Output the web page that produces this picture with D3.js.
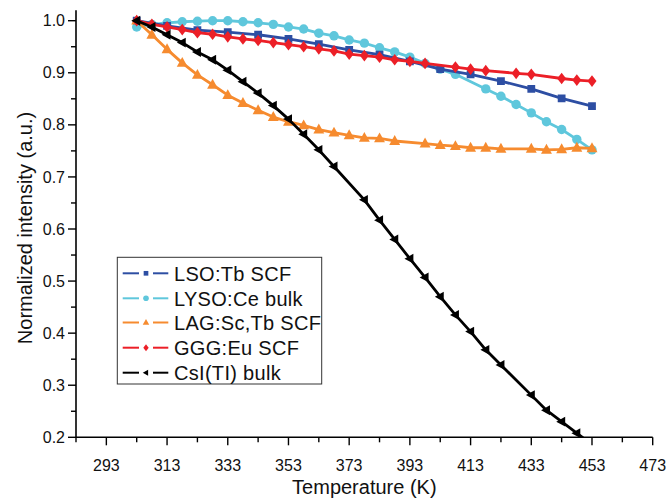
<!DOCTYPE html>
<html>
<head>
<meta charset="utf-8">
<script src="https://cdn.jsdelivr.net/npm/d3@7"></script>
<style>
  html, body { margin: 0; padding: 0; background: #fff; }
  svg { display: block; font-family: Arial, "Liberation Sans", sans-serif; }
</style>
</head>
<body>
<svg id="chart" width="666" height="500"></svg>
<script>
// Temperature-dependent normalized luminescence intensity
const xTicks = [293, 313, 333, 353, 373, 393, 413, 433, 453, 473];
const yTicks = [0.2, 0.3, 0.4, 0.5, 0.6, 0.7, 0.8, 0.9, 1.0];

const lsoT = [303, 313, 323, 333, 343, 353, 363, 373, 383, 393, 403, 413, 423, 433, 443, 453];
const lsoV = [1.0, 0.99, 0.982, 0.978, 0.973, 0.965, 0.955, 0.944, 0.935, 0.922, 0.907, 0.897, 0.884, 0.869, 0.851, 0.836];

const lysoT = [303, 308, 313, 318, 323, 328, 333, 338, 343, 348, 353, 358, 363, 368, 373, 378, 383, 388, 393, 398, 403, 408, 418, 423, 428, 433, 438, 443, 448, 453];
const lysoV = [0.988, 0.993, 0.996, 0.998, 0.999, 1.0, 1.0, 0.998, 0.996, 0.993, 0.988, 0.984, 0.976, 0.971, 0.963, 0.957, 0.948, 0.940, 0.930, 0.918, 0.907, 0.897, 0.869, 0.855, 0.839, 0.823, 0.806, 0.791, 0.772, 0.752];

const lagT = [303, 308, 313, 318, 323, 328, 333, 338, 343, 348, 353, 358, 363, 368, 373, 378, 383, 388, 398, 403, 408, 413, 418, 423, 433, 438, 443, 448, 453];
const lagV = [1.0, 0.973, 0.945, 0.919, 0.896, 0.877, 0.857, 0.842, 0.828, 0.815, 0.806, 0.799, 0.791, 0.785, 0.780, 0.775, 0.774, 0.769, 0.764, 0.761, 0.759, 0.756, 0.756, 0.754, 0.754, 0.752, 0.753, 0.756, 0.755];

const gggT = [303, 308, 313, 318, 323, 328, 333, 338, 343, 348, 353, 358, 363, 368, 373, 378, 383, 388, 393, 398, 408, 413, 418, 428, 433, 443, 448, 453];
const gggV = [1.0, 0.993, 0.988, 0.983, 0.977, 0.974, 0.969, 0.965, 0.962, 0.958, 0.954, 0.950, 0.946, 0.942, 0.936, 0.933, 0.930, 0.925, 0.922, 0.918, 0.911, 0.907, 0.904, 0.899, 0.897, 0.889, 0.886, 0.884];

const csiT = [303, 308, 313, 318, 323, 328, 333, 338, 343, 348, 353, 358, 363, 368, 378, 383, 388, 393, 398, 403, 408, 413, 418, 423, 433, 438, 443, 448, 453];
const csiV = [1.0, 0.988, 0.973, 0.958, 0.940, 0.925, 0.905, 0.883, 0.861, 0.837, 0.811, 0.782, 0.752, 0.720, 0.656, 0.617, 0.580, 0.543, 0.507, 0.470, 0.435, 0.403, 0.368, 0.339, 0.281, 0.252, 0.230, 0.208, 0.186];

const seriesNames = ["LSO:Tb SCF", "LYSO:Ce bulk", "LAG:Sc,Tb SCF", "GGG:Eu SCF", "CsI(TI) bulk"];

const series = [
  { name: seriesNames[0], t: lsoT, v: lsoV, color: "#2d4ea3", shape: "square" },
  { name: seriesNames[1], t: lysoT, v: lysoV, color: "#5fc7dc", shape: "circle" },
  { name: seriesNames[2], t: lagT, v: lagV, color: "#f68b2f", shape: "triangleUp" },
  { name: seriesNames[3], t: gggT, v: gggV, color: "#ec1f27", shape: "diamond" },
  { name: seriesNames[4], t: csiT, v: csiV, color: "#000000", shape: "triangleLeft" }
];
// drawing order: cyan underneath, black on top
const drawOrder = [1, 0, 2, 3, 4];

const svg = d3.select("#chart");
const plotLeft = 76, plotRight = 652.7, plotTop = 20.7, plotBottom = 437.3;

const x = d3.scaleLinear().domain([283, 473]).range([plotLeft, plotRight]);
const y = d3.scaleLinear().domain([0.2, 1.0]).range([plotBottom, plotTop]);
const yAxisTop = y(1.02);

svg.append("rect").attr("width", 666).attr("height", 500).attr("fill", "#fff");

svg.append("defs").append("clipPath").attr("id", "plotClip")
  .append("rect").attr("x", plotLeft).attr("y", yAxisTop - 10)
  .attr("width", plotRight - plotLeft + 10).attr("height", plotBottom - yAxisTop + 10);

// marker path generators
function markerPath(shape, s) {
  switch (shape) {
    case "square": return `M${-s},${-s}H${s}V${s}H${-s}Z`;
    case "circle": return d3.symbol(d3.symbolCircle, Math.PI * s * s)();
    case "triangleUp": return `M0,${-s * 1.15}L${s * 1.05},${s * 0.75}L${-s * 1.05},${s * 0.75}Z`;
    case "diamond": return `M0,${-s * 1.3}L${s},0L0,${s * 1.3}L${-s},0Z`;
    case "triangleLeft": return `M${-s * 1.15},0L${s * 0.75},${-s * 1.05}L${s * 0.75},${s * 1.05}Z`;
  }
}
const markerSize = { square: 3.9, circle: 4.7, triangleUp: 5.2, diamond: 4.5, triangleLeft: 4.7 };

const plot = svg.append("g").attr("clip-path", "url(#plotClip)");
const line = d3.line().x(d => x(d[0])).y(d => y(d[1]));

drawOrder.forEach(i => {
  const s = series[i];
  const pts = s.t.map((t, k) => [t, s.v[k]]);
  const g = plot.append("g");
  g.append("path").datum(pts)
    .attr("d", line)
    .attr("fill", "none")
    .attr("stroke", s.color)
    .attr("stroke-width", 2.8)
    .attr("stroke-linejoin", "round");
  g.selectAll("path.m").data(pts).enter().append("path")
    .attr("class", "m")
    .attr("d", markerPath(s.shape, markerSize[s.shape]))
    .attr("transform", d => `translate(${x(d[0])},${y(d[1])})`)
    .attr("fill", s.color);
});

// axes
const axisColor = "#000";
const xAxis = svg.append("g").attr("transform", `translate(0,${plotBottom})`);
xAxis.append("line").attr("x1", plotLeft).attr("x2", plotRight).attr("stroke", axisColor).attr("stroke-width", 1.6);
const xMinor = d3.range(283, 474, 10).filter(v => !xTicks.includes(v));
xAxis.selectAll("line.minor").data(xMinor).enter().append("line")
  .attr("x1", d => x(d)).attr("x2", d => x(d)).attr("y1", 0).attr("y2", 5)
  .attr("stroke", axisColor).attr("stroke-width", 1.4);
xAxis.selectAll("line.major").data(xTicks).enter().append("line")
  .attr("x1", d => x(d)).attr("x2", d => x(d)).attr("y1", 0).attr("y2", 8)
  .attr("stroke", axisColor).attr("stroke-width", 1.4);
xAxis.selectAll("text").data(xTicks).enter().append("text")
  .attr("x", d => x(d)).attr("y", 34)
  .attr("text-anchor", "middle").attr("font-size", 16).attr("fill", "#111")
  .text(d => d);

const yAxis = svg.append("g").attr("transform", `translate(${plotLeft},0)`);
yAxis.append("line").attr("y1", yAxisTop).attr("y2", plotBottom).attr("stroke", axisColor).attr("stroke-width", 1.6);
const yMinor = d3.range(0.25, 1.0, 0.1);
yAxis.selectAll("line.minor").data(yMinor).enter().append("line")
  .attr("x1", -5).attr("x2", 0).attr("y1", d => y(d)).attr("y2", d => y(d))
  .attr("stroke", axisColor).attr("stroke-width", 1.4);
yAxis.selectAll("line.major").data(yTicks).enter().append("line")
  .attr("x1", -8).attr("x2", 0).attr("y1", d => y(d)).attr("y2", d => y(d))
  .attr("stroke", axisColor).attr("stroke-width", 1.4);
yAxis.selectAll("text").data(yTicks).enter().append("text")
  .attr("x", -11).attr("y", d => y(d)).attr("dy", "0.35em")
  .attr("text-anchor", "end").attr("font-size", 16).attr("fill", "#111")
  .text(d => d3.format(".1f")(d));

// axis titles
svg.append("text").attr("x", (plotLeft + plotRight) / 2).attr("y", 494)
  .attr("text-anchor", "middle").attr("font-size", 20).attr("fill", "#111")
  .text("Temperature (K)");
svg.append("text").attr("transform", `translate(32,228) rotate(-90)`)
  .attr("text-anchor", "middle").attr("font-size", 20).attr("fill", "#111")
  .text("Normalized intensity (a.u.)");

// legend
const legend = svg.append("g");
legend.append("rect").attr("x", 117.3).attr("y", 257.3).attr("width", 204.4).attr("height", 126.7)
  .attr("fill", "#fff").attr("stroke", "#333").attr("stroke-width", 1);
const rowY = [273.3, 298.3, 322.5, 347.7, 372.7];
series.forEach((s, i) => {
  const g = legend.append("g").attr("transform", `translate(0,${rowY[i]})`);
  g.append("line").attr("x1", 122.7).attr("x2", 139).attr("stroke", s.color).attr("stroke-width", 2);
  g.append("line").attr("x1", 153).attr("x2", 168.3).attr("stroke", s.color).attr("stroke-width", 2);
  g.append("path").attr("d", markerPath(s.shape, markerSize[s.shape] * 0.6))
    .attr("transform", "translate(146,0)").attr("fill", s.color);
  g.append("text").attr("x", 174).attr("y", 0).attr("dy", "0.36em")
    .attr("font-size", 20).attr("letter-spacing", 0.3).attr("fill", "#111").text(s.name);
});
</script>
</body>
</html>
